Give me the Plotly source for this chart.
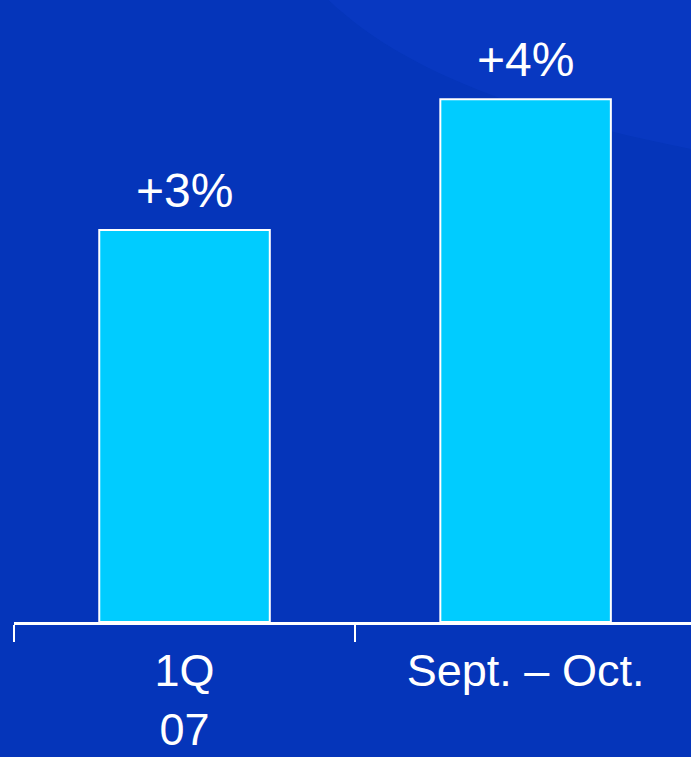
import plotly.graph_objects as go

# Growth by period
categories = ["1Q<br>07", "Sept. – Oct."]
growth_pct = [3, 4]
value_labels = ["+3%", "+4%"]

BG = "#0535ba"
BAR = "#00ccff"
FONT = "Liberation Sans, Arial, sans-serif"

fig = go.Figure()

fig.add_trace(go.Bar(
    x=categories,
    y=growth_pct,
    width=0.5,
    marker=dict(color=BAR, line=dict(color="white", width=2)),
    hoverinfo="skip",
))

# Value labels above each bar
for cat, val, lab in zip(categories, growth_pct, value_labels):
    fig.add_annotation(
        x=cat, y=val, xref="x", yref="y",
        text=lab, showarrow=False,
        yanchor="bottom", yshift=11,
        font=dict(family=FONT, size=48, color="white"),
    )

# Faint lighter sweep across the upper right of the background
fig.add_shape(
    type="path", xref="paper", yref="paper", layer="below",
    path="M 0.33 1.25 C 0.40 1.0, 0.55 0.85, 1.05 0.75 L 1.05 1.25 Z",
    fillcolor="rgba(40,90,255,0.10)", line=dict(width=0),
)

fig.update_layout(
    width=691, height=757,
    margin=dict(l=14, r=0, t=0, b=135),
    paper_bgcolor=BG, plot_bgcolor="rgba(0,0,0,0)",
    showlegend=False,
    xaxis=dict(
        type="category",
        range=[-0.5, 1.485],
        automargin=False,
        tickson="boundaries",
        ticks="outside", ticklen=17, tickwidth=2, tickcolor="white",
        showline=True, linecolor="white", linewidth=3,
        showgrid=False, zeroline=False,
        ticklabelstandoff=7,
        tickfont=dict(family=FONT, size=45, color="white"),
        fixedrange=True,
    ),
    yaxis=dict(
        range=[0, 4.759],
        automargin=False,
        visible=False, showgrid=False, zeroline=False,
        fixedrange=True,
    ),
)

fig.write_html("out.html")
